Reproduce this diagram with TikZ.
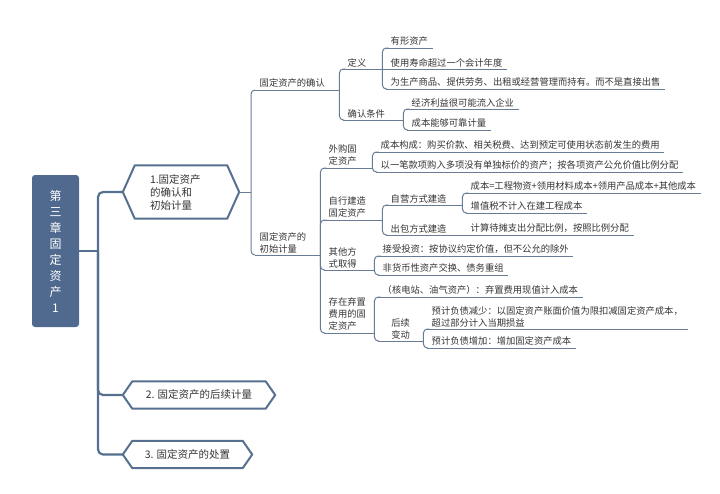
\documentclass[tikz,border=0pt]{standalone}
\usepackage{fontspec}
\newfontfamily\cjk{Noto Sans CJK SC}
\definecolor{rootblue}{RGB}{79,106,142}
\definecolor{trunkblue}{RGB}{86,112,143}
\definecolor{linkgray}{RGB}{104,124,150}
\definecolor{txtgray}{RGB}{52,52,52}

\begin{document}
\begin{tikzpicture}[
    x=1pt, y=-1pt,
    root/.style={rectangle, rounded corners=3pt, fill=rootblue, text=white, minimum width=47pt, minimum height=152pt, align=center, font=\cjk\fontsize{12}{16}\selectfont},
    sect/.style={rectangle, minimum height=27pt, align=left, inner sep=0pt, text=txtgray, font=\cjk\fontsize{10.5}{13}\selectfont},
    topic/.style={anchor=south west, inner xsep=4.5pt, inner ysep=2pt, align=left, text=txtgray, font=\cjk\fontsize{9.3}{12}\selectfont},
    trunk/.style={draw=trunkblue, line width=2.2pt, rounded corners=5pt},
    hexline/.style={draw=trunkblue, line width=2pt, line join=round},
    link/.style={draw=linkgray, line width=1pt, rounded corners=4pt},
]
\useasboundingbox (0,0) rectangle (720,493);

% Root and sections
\node[root] (root) at (55.5,251) {第\\三\\章\\固\\定\\资\\产\\1};
\node[sect, minimum width=116pt, minimum height=53pt, text width=62pt] (s1) at (181,192) {1.固定资产\\的确认和\\初始计量};
\node[sect, minimum width=152pt] (s2) at (199,395) {2. 固定资产的后续计量};
\node[sect, minimum width=129pt] (s3) at (187.5,454.5) {3. 固定资产的处置};

% Level 2
\node[topic, text width=75pt] (qr) at (255,90) {固定资产的确认};
\node[topic, text width=56pt] (cs) at (255,255) {固定资产的\\初始计量};

% Level 3
\node[topic, text width=30pt] (dy) at (343,69) {定义};
\node[topic, text width=51pt] (tj) at (343,120) {确认条件};
\node[topic, text width=39pt] (wg) at (324,168) {外购固\\定资产};
\node[topic, text width=49pt] (zx) at (324,220) {自行建造\\固定资产};
\node[topic, text width=41pt] (qt) at (324,270) {其他方\\式取得};
\node[topic, text width=41pt] (qz) at (324,333) {存在弃置\\费用的固\\定资产};

% Level 4
\node[topic] (d1) at (386,48) {有形资产};
\node[topic] (d2) at (386,69) {使用寿命超过一个会计年度};
\node[topic] (d3) at (386,89) {为生产商品、提供劳务、出租或经营管理而持有。而不是直接出售};
\node[topic] (t1) at (407,109) {经济利益很可能流入企业};
\node[topic] (t2) at (407,130) {成本能够可靠计量};
\node[topic] (w1) at (376,152) {成本构成：购买价款、相关税费、达到预定可使用状态前发生的费用};
\node[topic] (w2) at (376,172) {以一笔款项购入多项没有单独标价的资产；按各项资产公允价值比例分配};
\node[topic, text width=67pt] (zy) at (386,205) {自营方式建造};
\node[topic, text width=67pt] (cb) at (386,235) {出包方式建造};
\node[topic] (q1) at (378,256) {接受投资：按协议约定价值，但不公允的除外};
\node[topic] (q2) at (378,275) {非货币性资产交换、债务重组};
\node[topic] (k1) at (378,297) {（核电站、油气资产）：弃置费用现值计入成本};
\node[topic, text width=36pt, align=center] (hx) at (378,341) {后续\\变动};

% Level 5
\node[topic] (z1) at (466,193) {成本=工程物资+领用材料成本+领用产品成本+其他成本};
\node[topic] (z2) at (466,213) {增值税不计入在建工程成本};
\node[topic] (c1) at (466,235) {计算待摊支出分配比例，按照比例分配};
\node[topic] (v1) at (427,329) {预计负债减少：以固定资产账面价值为限扣减固定资产成本，\\超过部分计入当期损益};
\node[topic] (v2) at (427,348) {预计负债增加：增加固定资产成本};

% Hexagon outlines
\foreach \h/\d in {s1/12, s2/9.5, s3/9.5}
  \draw[hexline] (\h.west) -- ([xshift=\d pt]\h.north west) -- ([xshift=-\d pt]\h.north east) -- (\h.east)
    -- ([xshift=-\d pt]\h.south east) -- ([xshift=\d pt]\h.south west) -- cycle;

% Trunk
\coordinate (j0) at (98,251);
\draw[trunk] (root.east) -- (j0);
\foreach \s in {s1,s2,s3}
  \draw[trunk] (j0) |- (\s.west);

% Brackets
\coordinate (j1) at (251,192);
\draw[link] (s1.east) -- (j1);
\foreach \c in {qr,cs}
  \draw[link] (j1) |- (\c.south west);
\foreach \p/\c in {qr/dy, qr/tj, dy/d1, dy/d3, tj/t1, tj/t2, cs/wg, cs/zx, cs/qt, cs/qz,
    wg/w1, wg/w2, zx/zy, zx/cb, zy/z1, zy/z2, qt/q1, qt/q2, qz/k1, qz/hx, hx/v1, hx/v2}
  \draw[link] (\p.south east) |- (\c.south west);
\draw[link] (dy.south east) -- (d2.south west);
\draw[link] (cb.south east) -- (c1.south west);

% Underlines
\foreach \n in {qr,cs,dy,tj,wg,zx,qt,qz,d1,d2,d3,t1,t2,w1,w2,zy,cb,q1,q2,k1,hx,z1,z2,c1,v1,v2}
  \draw[link] (\n.south west) -- (\n.south east);

\end{tikzpicture}
\end{document}
